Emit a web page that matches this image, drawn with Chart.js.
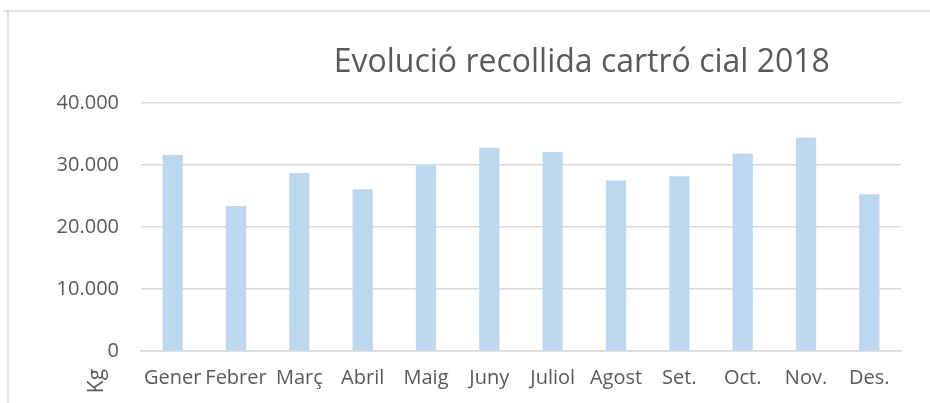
<!DOCTYPE html>
<html>
<head>
<meta charset="utf-8">
<script src="https://cdn.jsdelivr.net/npm/chart.js@4/dist/chart.umd.min.js"></script>
<style>
  html, body { margin: 0; padding: 0; background: #fff; }
  #wrap { width: 930px; height: 403px; }
</style>
</head>
<body>
<div id="wrap"><canvas id="barChart" width="930" height="403"></canvas></div>
<script>
const months = ['Gener', 'Febrer', 'Març', 'Abril', 'Maig', 'Juny', 'Juliol', 'Agost', 'Set.', 'Oct.', 'Nov.', 'Des.'];
const kg = [31600, 23400, 28700, 26100, 29900, 32800, 32100, 27500, 28200, 31800, 34400, 25300];
const yTicks = [0, 10000, 20000, 30000, 40000];
const chartTitle = 'Evolució recollida cartró cial 2018';
const axisTitle = 'Kg';

const FONT = "'Open Sans', sans-serif";
const GREY = '#595959';

function fmt(v) {
  return String(v).replace(/\B(?=(\d{3})+(?!\d))/g, '.');
}

// frame, title and the odd "Kg" label that sits below the axis
const decor = {
  id: 'decor',
  beforeDraw(chart) {
    const ctx = chart.ctx;
    ctx.save();
    ctx.strokeStyle = '#d9d9d9';
    ctx.lineWidth = 1.5;
    ctx.beginPath();
    ctx.moveTo(4, 11);
    ctx.lineTo(930, 11);
    ctx.moveTo(8, 11);
    ctx.lineTo(8, 403);
    ctx.stroke();
    ctx.restore();
  },
  afterDraw(chart) {
    const ctx = chart.ctx;
    const area = chart.chartArea;
    ctx.save();
    ctx.fillStyle = GREY;
    ctx.font = '32px ' + FONT;
    ctx.textAlign = 'center';
    ctx.textBaseline = 'alphabetic';
    ctx.fillText(chartTitle, area.left + (area.right - area.left) * 0.58, 72);

    ctx.font = '21px ' + FONT;
    ctx.translate(area.left - 44, area.bottom + 30);
    ctx.rotate(-Math.PI / 2);
    ctx.textAlign = 'center';
    ctx.textBaseline = 'middle';
    ctx.fillText(axisTitle, 0, 0);
    ctx.restore();
  }
};

new Chart(document.getElementById('barChart'), {
  type: 'bar',
  data: {
    labels: months,
    datasets: [{
      label: axisTitle,
      data: kg,
      backgroundColor: '#bdd7ee',
      borderWidth: 0,
      barPercentage: 0.32,
      categoryPercentage: 1
    }]
  },
  options: {
    responsive: false,
    animation: false,
    layout: { padding: { top: 103, right: 29, left: 0, bottom: 0 } },
    plugins: {
      legend: { display: false },
      title: { display: false },
      tooltip: { enabled: false }
    },
    scales: {
      x: {
        grid: { display: false, drawTicks: false },
        border: { color: '#d9d9d9', width: 1.5 },
        ticks: { color: GREY, font: { family: FONT, size: 20 }, padding: 15, maxRotation: 0, autoSkip: false },
        afterFit(scale) { scale.height = 52; }
      },
      y: {
        min: 0,
        max: 40000,
        afterBuildTicks(scale) { scale.ticks = yTicks.map(v => ({ value: v })); },
        grid: { color: '#d9d9d9', lineWidth: 1.5, drawTicks: false },
        border: { display: false },
        ticks: { color: GREY, font: { family: FONT, size: 20 }, padding: 22, callback: v => fmt(v) },
        afterFit(scale) { scale.width = 141; }
      }
    }
  },
  plugins: [decor]
});
</script>
</body>
</html>
